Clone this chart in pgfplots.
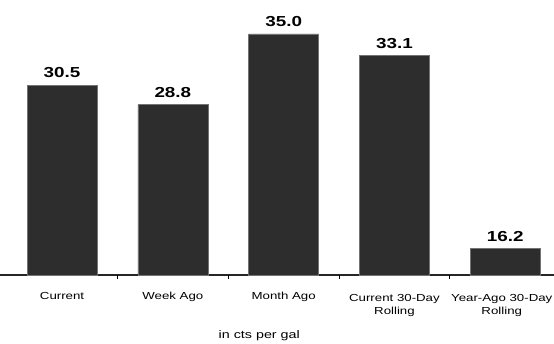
\documentclass[border=0pt]{standalone}
\usepackage{pgfplots}
\pgfplotsset{compat=1.18}
\usepackage{fontspec}
\setmainfont{Liberation Sans}[FakeStretch=1.3]
\definecolor{barfill}{RGB}{45,45,45}
\begin{document}
\begin{tikzpicture}
\useasboundingbox (0,-68pt) rectangle (554pt,275pt);
\begin{axis}[
  at={(0,0)}, anchor=south west,
  scale only axis, width=554pt, height=275pt,
  ymin=13.9, ymax=37.96,
  xmin=-0.56, xmax=4.44,
  axis x line=bottom, axis y line=none,
  axis line style={-, line width=1.3pt, black!85},
  ybar, bar width=70pt,
  xtick={0,1,2,3,4},
  xticklabels={Current, Week Ago, Month Ago, {\begin{tabular}{@{}c@{}}Current 30-Day\\Rolling\end{tabular}}, {\begin{tabular}{@{}c@{}}Year-Ago 30-Day\\Rolling\end{tabular}\hspace*{7pt}}},
  major tick length=0pt,
  xticklabel style={font=\fontsize{10.2}{13}\selectfont, yshift=-14pt},
  extra x ticks={0.5,1.5,2.5,3.5},
  extra x tick labels={},
  extra x tick style={major tick length=4pt, tick style={black, line width=1pt}, tick align=outside},
  nodes near coords,
  every node near coord/.append style={font=\fontsize{14.5}{14.5}\bfseries\selectfont, anchor=south, inner sep=0pt, yshift=7pt},
  point meta=explicit symbolic,
  clip=false,
]
\addplot[fill=barfill, draw=black!55, line width=0.6pt] coordinates {
  (0,30.5) [30.5]
  (1,28.8) [28.8]
  (2,35.0) [35.0]
  (3,33.1) [33.1]
  (4,16.2) [16.2]
};
\node[font=\fontsize{11}{11}\selectfont, anchor=center] at (axis description cs:0.468,-0.222) {in cts per gal};
\end{axis}
\end{tikzpicture}
\end{document}
